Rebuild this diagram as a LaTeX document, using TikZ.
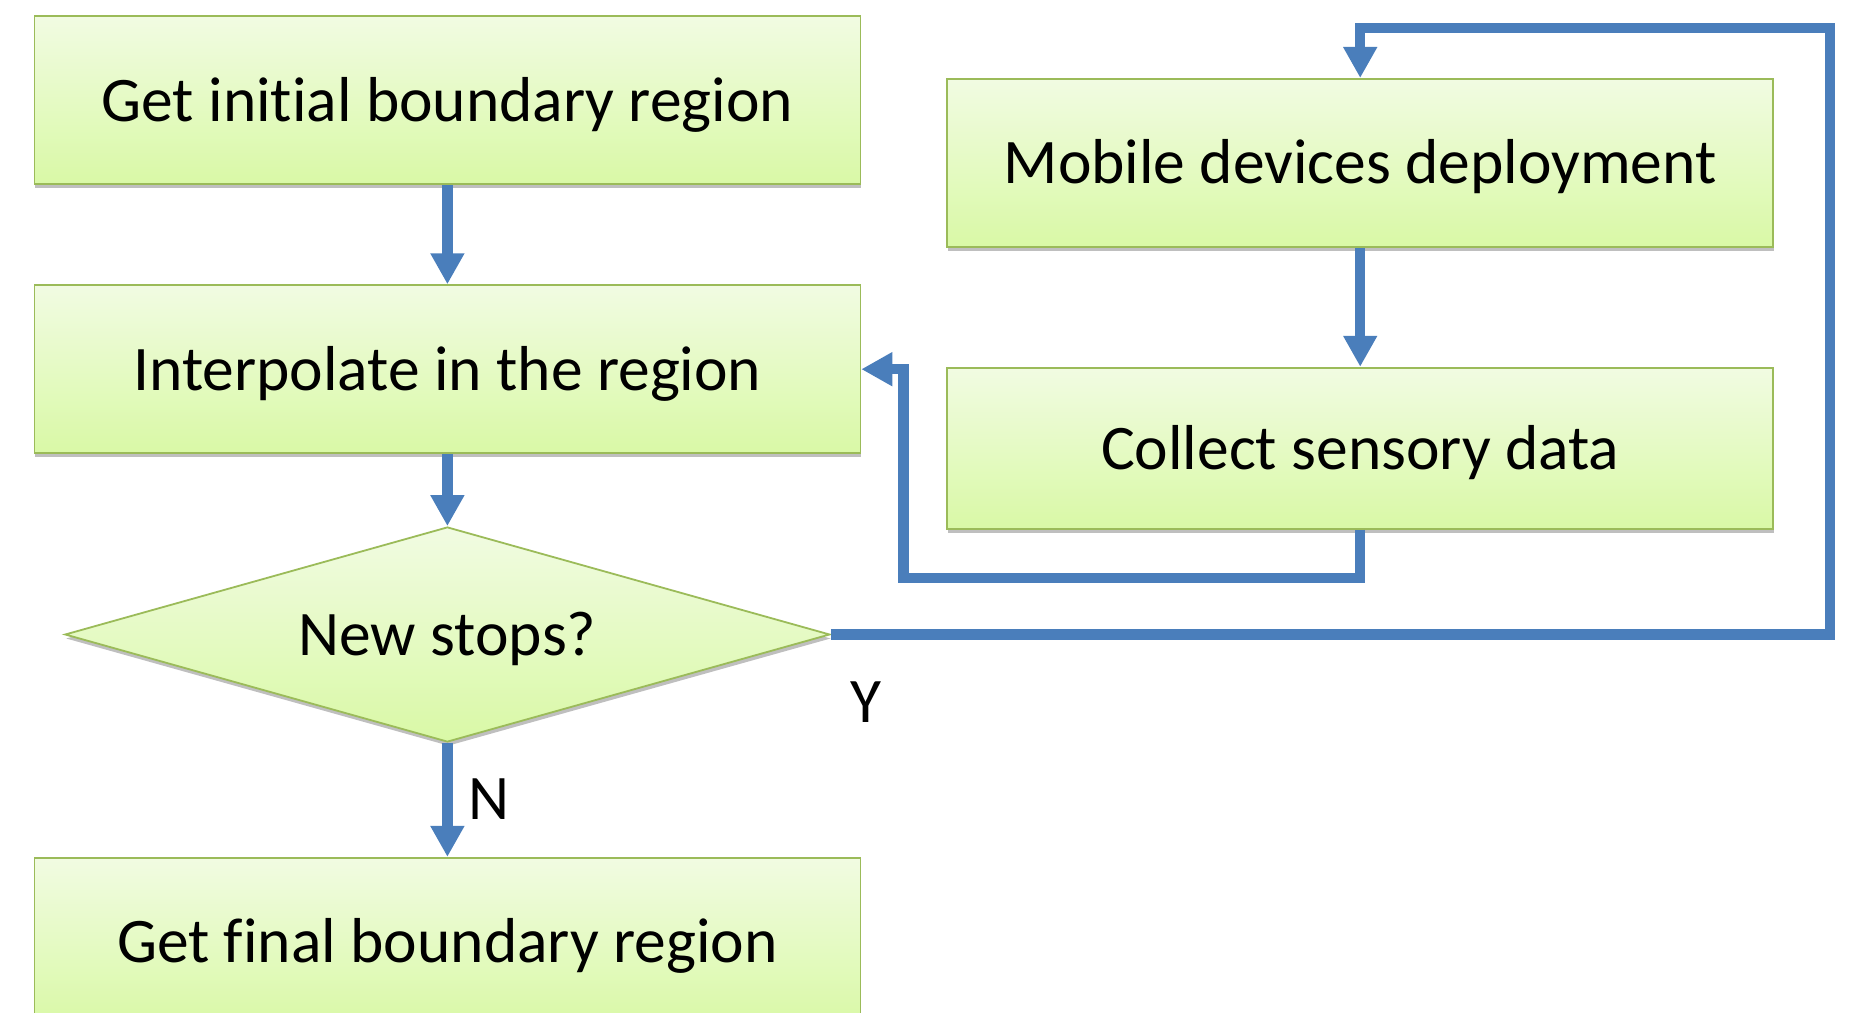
\documentclass[tikz,border=0pt]{standalone}
\usepackage{fontspec}
\setmainfont{Carlito}[Ligatures=NoCommon]
\usepackage{xcolor}
\usepackage{tikz}
\usetikzlibrary{positioning, shapes.geometric, shadows, arrows.meta}

\definecolor{boxtop}{HTML}{F1FBE2}
\definecolor{boxbottom}{HTML}{D9F9A6}
\definecolor{boxline}{HTML}{9BBB59}
\definecolor{flowblue}{HTML}{4A7EBB}

\begin{document}
\begin{tikzpicture}[
                    x=1pt, y=1pt,
                    every node/.style={align=center, font=\fontsize{63.5pt}{76pt}\selectfont},
                    step box/.style={draw=boxline, line width=1.8pt, top color=boxtop, bottom color=boxbottom,
                                     drop shadow={shadow xshift=1pt, shadow yshift=-4pt, opacity=0.25, fill=black},
                                     minimum width=826pt, minimum height=168pt, inner sep=0pt, text centered,
                                     text height=55pt, text depth=13pt},
                    check/.style={diamond, draw=boxline, line width=1.8pt, top color=boxtop, bottom color=boxbottom,
                                  drop shadow={shadow xshift=1pt, shadow yshift=-4pt, opacity=0.25, fill=black},
                                  minimum width=765pt, minimum height=215pt, inner sep=0pt, aspect=3.56,
                                  text height=55pt, text depth=13pt},
                    flow/.style={draw=flowblue, line width=10.5pt, line join=miter, -{Triangle[length=31pt, width=32pt]}},
                    mark label/.style={inner sep=0pt, anchor=base}
                ]

                    \useasboundingbox (0,0) rectangle (1851,1012);

                    % Nodes (left column)
                    \node (init) [step box] at (447.4, 911.6) {Get initial boundary region};
                    \node (interp) [step box, below=99pt of init] {Interpolate in the region};
                    \node (decision) [check, below=72pt of interp] {New stops?};
                    \node (final) [step box, below=114pt of decision] {Get final boundary region};

                    % Nodes (right column)
                    \node (mobile) [step box, right=85pt of init, yshift=-62.5pt] {Mobile devices deployment};
                    \node (collect) [step box, minimum height=161pt, below=119pt of mobile] {Collect sensory data};

                    % Labels
                    \node (ylabel) [mark label] at ([xshift=35pt, yshift=-88pt]decision.east) {Y};
                    \node (nlabel) [mark label] at ([xshift=42pt, yshift=-77pt]decision.south) {N};

                    % Arrows
                    \draw[flow] (init) -- (interp);
                    \draw[flow] (interp) -- (decision);
                    \draw[flow] (decision) -- (final);
                    \draw[flow] (mobile) -- (collect);
                    \draw[flow] (collect.south) -- ++(0,-48.5) -| ([xshift=42pt]interp.east) -- (interp.east);
                    \draw[flow] (decision.east) -| ([xshift=56pt, yshift=50pt]mobile.north east) -| (mobile.north);

                \end{tikzpicture}
\end{document}
